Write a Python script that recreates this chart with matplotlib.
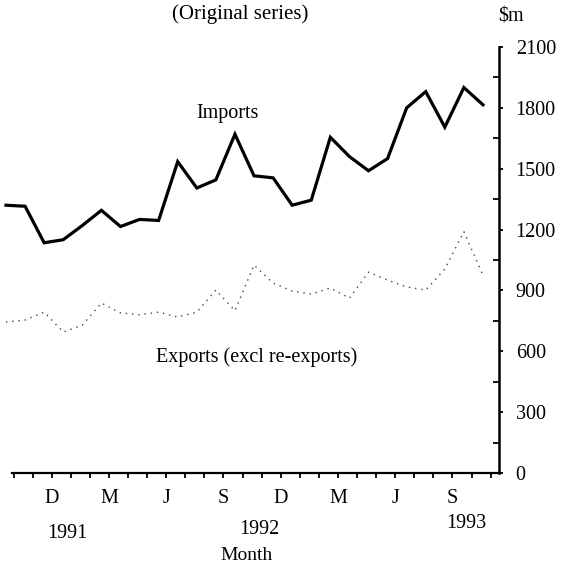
import numpy as np
import matplotlib
matplotlib.use("Agg")
import matplotlib.pyplot as plt

plt.rcParams["font.family"] = ["Liberation Serif", "DejaVu Serif"]

# Monthly values, $m (Oct 1991 .. Nov 1993)
imports = [1320, 1315, 1135, 1150, 1220, 1295, 1215, 1250, 1245, 1535, 1405, 1445, 1670,
           1465, 1455, 1320, 1345, 1655, 1560, 1490, 1550, 1800, 1880, 1705, 1900, 1815]
exports = [744, 754, 793, 695, 729, 838, 789, 780, 793, 769, 793, 902, 800,
           1025, 936, 897, 882, 912, 862, 990, 951, 917, 902, 1005, 1190, 975]

month_labels = ["", "", "D", "", "", "M", "", "", "J", "", "", "S", "",
                "", "D", "", "", "M", "", "", "J", "", "", "S", "", ""]
year_labels = ["1991", "1992", "1993"]
year_x = [3.2, 13.3, 24.1]
year_y = [534, 529, 524]   # pixel rows, the scan is slightly skewed
y_ticks = [0, 300, 600, 900, 1200, 1500, 1800, 2100]
y_minor = [150, 450, 750, 1050, 1350, 1650, 1950]

W, H = 565, 567
fig = plt.figure(figsize=(W / 100, H / 100), dpi=100)
ax = fig.add_axes([12 / W, (H - 473) / H, (499 - 12) / W, (473 - 47) / H])

months = np.arange(len(imports))

ax.plot(months, imports, color="black", linewidth=2.3, solid_joinstyle="miter",
        clip_on=False, zorder=5)
ax.plot(months, exports, color="#444444", linewidth=1.0, linestyle=(0, (1, 3.5)),
        clip_on=False, zorder=4)

ax.set_xlim(0.3145, 25.84)
ax.set_ylim(0, 2100)

for side in ["top", "left"]:
    ax.spines[side].set_visible(False)
ax.spines["right"].set_linewidth(1.8)
ax.spines["bottom"].set_linewidth(1.6)

# y axis on the right
ax.yaxis.tick_right()
ax.set_yticks(y_ticks)
ax.set_yticks(y_minor, minor=True)
ax.tick_params(axis="y", which="major", direction="out", length=3, width=1.3,
               pad=9, labelsize=14.5)
ax.tick_params(axis="y", which="minor", direction="in", length=4, width=1.3)

# x axis: a tick every month
ax.set_xticks(months + 0.4)
ax.set_xticklabels(month_labels)
ax.tick_params(axis="x", which="major", direction="out", length=3.5, width=1.3,
               pad=8, labelsize=14.5)

ax_h = 473 - 47
trans = ax.get_xaxis_transform()
for lab, xp, yp in zip(year_labels, year_x, year_y):
    ax.text(xp, (473 - yp) / ax_h, lab, transform=trans, ha="center", va="center",
            fontsize=14.5)
ax.text(12.6, (473 - 555) / ax_h, "Month", transform=trans, ha="center", va="center",
        fontsize=14)

ax.text(11.6, 1770, "Imports", ha="center", va="center", fontsize=14.5)
ax.text(13.15, 572, "Exports (excl re-exports)", ha="center", va="center", fontsize=14.5)

fig.text(240 / W, 1 - 14 / H, "(Original series)", ha="center", va="center", fontsize=15)
fig.text(511 / W, 1 - 17 / H, "$m", ha="center", va="center", fontsize=14.5)

fig.savefig("out.png", dpi=100)
